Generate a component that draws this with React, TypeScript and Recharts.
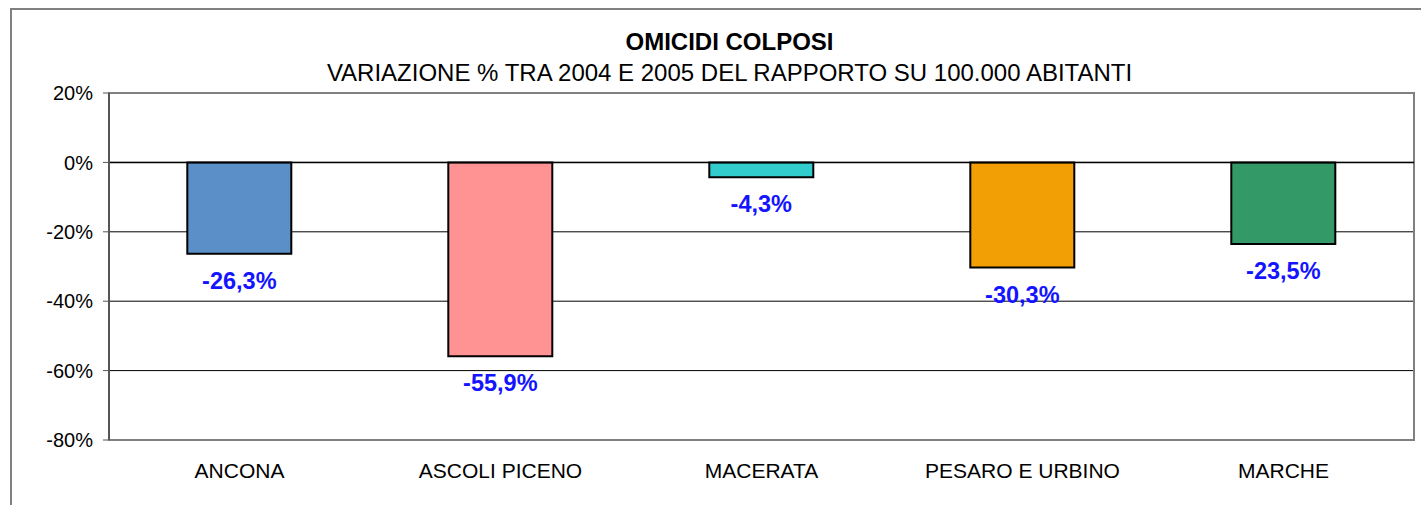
import { BarChart, Bar, Cell, XAxis, YAxis, CartesianGrid, ReferenceLine, ReferenceArea, LabelList } from "recharts";

const provinces = ["ANCONA", "ASCOLI PICENO", "MACERATA", "PESARO E URBINO", "MARCHE"];
const variation = [-26.3, -55.9, -4.3, -30.3, -23.5];
const barColors = ["#5B8FC8", "#FF9393", "#33CCCC", "#F29F05", "#339966"];
const yTicks = [20, 0, -20, -40, -60, -80];

const data = provinces.map((name, i) => ({ name, value: variation[i] }));

const font = "'Liberation Sans', Arial, sans-serif";

const fmt = (v: number) => `${v.toFixed(1).replace(".", ",")}%`;

function BelowLabel(props: any) {
  const { x, y, width, height, value } = props;
  const bottom = Math.max(y, y + height);
  return (
    <text
      x={x + width / 2}
      y={bottom + 27}
      textAnchor="middle"
      dominantBaseline="central"
      fill="#1414FF"
      fontWeight="bold"
      fontSize={23.5}
      fontFamily={font}
    >
      {fmt(value)}
    </text>
  );
}

export default function App() {
  return (
    <div style={{ position: "fixed", left: 0, top: 0, width: 1421, height: 505, overflow: "hidden", background: "#fff", fontFamily: font }}>
      <div style={{ position: "absolute", left: 10, top: 8, width: 1500, height: 600, border: "2px solid #808080" }} />
      <div style={{ position: "absolute", left: 0, width: 1459, top: 28, textAlign: "center", fontSize: 24, fontWeight: "bold", lineHeight: "28px" }}>
        OMICIDI COLPOSI
      </div>
      <div style={{ position: "absolute", left: 0, width: 1459, top: 59, textAlign: "center", fontSize: 24, lineHeight: "28px" }}>
        VARIAZIONE % TRA 2004 E 2005 DEL RAPPORTO SU 100.000 ABITANTI
      </div>
      <div style={{ position: "absolute", left: 0, top: 0 }}>
        <BarChart width={1421} height={505} data={data} margin={{ top: 93, right: 7, bottom: 20, left: 0 }} barCategoryGap="30%">
          <CartesianGrid vertical={false} stroke="#000" strokeWidth={1} />
          <ReferenceArea y1={-80} y2={20} fill="none" stroke="#808080" strokeWidth={2} />
          <XAxis
            dataKey="name"
            height={45}
            tickLine={false}
            axisLine={{ stroke: "#808080", strokeWidth: 2 }}
            tickMargin={17}
            tick={{ fill: "#000", fontSize: 21, fontFamily: font }}
            interval={0}
          />
          <YAxis
            width={109}
            domain={[-80, 20]}
            ticks={yTicks}
            tickFormatter={(v: number) => `${v}%`}
            tickSize={6}
            tickMargin={10}
            tickLine={{ stroke: "#555" }}
            axisLine={{ stroke: "#555", strokeWidth: 2 }}
            tick={{ fill: "#000", fontSize: 20, fontFamily: font }}
            interval={0}
          />
          <ReferenceLine y={0} stroke="#000" strokeWidth={1.5} />
          <Bar dataKey="value" stroke="#000" strokeWidth={2} isAnimationActive={false}>
            {data.map((d, i) => (
              <Cell key={d.name} fill={barColors[i]} />
            ))}
            <LabelList dataKey="value" content={BelowLabel} />
          </Bar>
        </BarChart>
      </div>
    </div>
  );
}
